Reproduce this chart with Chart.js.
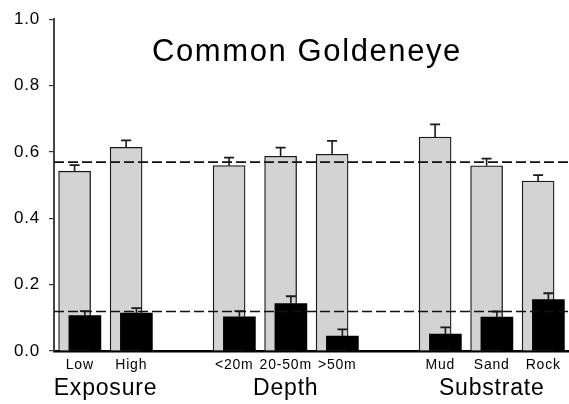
<!DOCTYPE html>
<html>
<head>
<meta charset="utf-8">
<script src="https://cdn.jsdelivr.net/npm/chart.js@4/dist/chart.umd.min.js"></script>
<style>
  html, body { margin: 0; padding: 0; background: #fff; }
  #wrap { position: relative; width: 569px; height: 404px; }
  #title {
    position: absolute; top: 35px; left: 307px; transform: translateX(-50%);
    font-family: "Liberation Sans", Arial, sans-serif; font-size: 31px; line-height: 31px;
    letter-spacing: 1.6px; white-space: nowrap; color: #000; pointer-events: none;
  }
</style>
</head>
<body>
<div id="wrap">
  <canvas id="c"></canvas>
  <div id="title">Common Goldeneye</div>
</div>
<script>
// ---- data ----
const CATEGORIES = ['Low', 'High', '', '<20m', '20-50m', '>50m', '', 'Mud', 'Sand', 'Rock'];
const GROUP_NAMES = ['Exposure', 'Depth', 'Substrate'];
const GROUP_CENTERS = [0.5, 4, 8];
const Y_TICKS = [0, 0.2, 0.4, 0.6, 0.8, 1.0];

const LIGHT_MEAN = [0.542, 0.614, null, 0.559, 0.587, 0.593, null, 0.645, 0.558, 0.512];
const LIGHT_ERR  = [0.018, 0.021, null, 0.024, 0.026, 0.040, null, 0.038, 0.022, 0.018];
const DARK_MEAN  = [0.107, 0.114, null, 0.103, 0.143, 0.045, null, 0.051, 0.102, 0.155];
const DARK_ERR   = [0.013, 0.015, null, 0.017, 0.022, 0.020, null, 0.020, 0.017, 0.019];

const LIGHT_REF = 0.569;
const DARK_REF  = 0.119;

// ---- layout helpers ----
const X_MIN = -0.5, X_MAX = CATEGORIES.length - 0.5;
const SHIFT = 0.1; // overlap shift of the two bars within a category
const FONT = '"Liberation Sans", Arial, sans-serif';

function barData(means, shift) {
  const out = [];
  means.forEach((m, i) => { if (m !== null) out.push({ x: i + shift, y: m }); });
  return out;
}
function errData(means, errs, shift) {
  const out = [];
  means.forEach((m, i) => {
    if (m === null) return;
    out.push({ x: i + shift, y: m });
    out.push({ x: i + shift, y: m + errs[i], cap: true });
    out.push({ x: i + shift, y: null });
  });
  return out;
}
function refLine(v) { return [{ x: X_MIN, y: v }, { x: X_MAX, y: v }]; }

const spacing = {
  id: 'spacing',
  beforeLayout(chart) { chart.ctx.letterSpacing = '0.8px'; },
  beforeDraw(chart) { chart.ctx.letterSpacing = '0.8px'; }
};

const errCommon = {
  type: 'line', borderColor: '#1a1a1a', borderWidth: 1.6, spanGaps: false,
  pointStyle: 'line', pointBorderColor: '#1a1a1a', pointBorderWidth: 1.8,
  pointRadius: ctx => (ctx.raw && ctx.raw.cap ? 5 : 0), pointHoverRadius: 0, order: 1
};

new Chart(document.getElementById('c'), {
  type: 'bar',
  plugins: [spacing],
  data: {
    datasets: [
      { type: 'line', label: 'Available mean', data: refLine(LIGHT_REF), borderColor: '#111',
        borderWidth: 1.7, borderDash: [10, 4], pointRadius: 0, order: 0 },
      { type: 'line', label: 'Used mean', data: refLine(DARK_REF), borderColor: '#111',
        borderWidth: 1.7, borderDash: [10, 4], pointRadius: 0, order: 0 },
      Object.assign({ label: 'Available err', data: errData(LIGHT_MEAN, LIGHT_ERR, -SHIFT) }, errCommon),
      Object.assign({ label: 'Used err', data: errData(DARK_MEAN, DARK_ERR, SHIFT) }, errCommon),
      { label: 'Used', data: barData(DARK_MEAN, SHIFT), backgroundColor: '#000', borderColor: '#000',
        borderWidth: 0, barThickness: 32, grouped: false, order: 2 },
      { label: 'Available', data: barData(LIGHT_MEAN, -SHIFT), backgroundColor: '#d3d3d3', borderColor: '#1a1a1a',
        borderWidth: 1.3, barThickness: 32, grouped: false, order: 3 }
    ]
  },
  options: {
    responsive: true, maintainAspectRatio: false, animation: false, events: [],
    layout: { padding: { top: 16, right: 0, left: 0, bottom: 0 } },
    plugins: { legend: { display: false }, tooltip: { enabled: false }, title: { display: false } },
    scales: {
      x: {
        type: 'linear', position: 'bottom', min: X_MIN, max: X_MAX, offset: false, weight: 0,
        grid: { display: true, drawOnChartArea: false, drawTicks: false, offset: false },
        border: { display: true, color: '#000', width: 2.5 },
        afterBuildTicks: s => { s.ticks = CATEGORIES.map((_, i) => ({ value: i })); },
        afterFit: s => { s.height = 22; },
        ticks: { autoSkip: false, maxRotation: 0, padding: 6, color: '#000',
          font: { family: FONT, size: 14 }, callback: (v, i) => CATEGORIES[i] }
      },
      xg: {
        type: 'linear', position: 'bottom', min: X_MIN, max: X_MAX, offset: false, weight: 1,
        grid: { display: false, drawTicks: false }, border: { display: false },
        afterBuildTicks: s => { s.ticks = GROUP_CENTERS.map(v => ({ value: v })); },
        afterFit: s => { s.height = 31; },
        ticks: { autoSkip: false, maxRotation: 0, padding: 2, color: '#000',
          font: { family: FONT, size: 23 }, callback: (v, i) => GROUP_NAMES[i] }
      },
      y: {
        min: 0, max: 1,
        grid: { display: true, drawOnChartArea: false, drawTicks: true, tickLength: 5, color: '#333', lineWidth: 1.2 },
        border: { display: true, color: '#444', width: 2 },
        afterBuildTicks: s => { s.ticks = Y_TICKS.map(v => ({ value: v })); },
        afterFit: s => { s.width = 54; },
        ticks: { padding: 9, color: '#000', font: { family: FONT, size: 17 },
          callback: v => v.toFixed(1) }
      }
    }
  }
});
</script>
</body>
</html>
